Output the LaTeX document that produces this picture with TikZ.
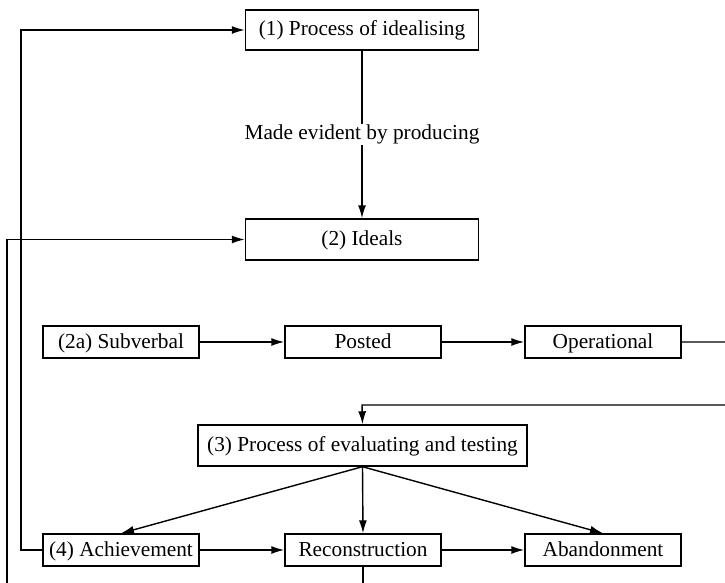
\documentclass[tikz,border=0pt]{standalone}
\usepackage{fontspec}
\setmainfont{Liberation Serif}
\usetikzlibrary{arrows.meta}

\begin{document}
\begin{tikzpicture}[x=1pt, y={(0,-1pt)}, >={Latex[length=13pt,width=8pt]},
        line width=1.4pt,
        font=\fontsize{21.3}{25}\selectfont,
        bigbox/.style={draw, inner sep=0pt, text height=15pt, text depth=3pt,
            minimum width=233pt, minimum height=40pt},
        smallbox/.style={draw, inner sep=0pt, text height=15pt, text depth=3pt,
            minimum width=156pt, minimum height=32pt}]
    \clip (0, 0) rectangle (725, 583);

    \node[bigbox] (idealising) at (362, 30) {(1) Process of idealising};
    \node[bigbox, minimum height=41pt] (ideals) at (362, 239.5) {(2) Ideals};

    \node[smallbox] (subverbal) at (121, 342) {(2a) Subverbal};
    \node[smallbox] (posted) at (363, 342) {Posted};
    \node[smallbox] (operational) at (603, 342) {Operational};

    \node[bigbox, minimum width=329pt, minimum height=41pt] (evaluating) at (362.5, 445.5) {(3) Process of evaluating and testing};

    \node[smallbox] (achievement) at (121, 550) {(4) Achievement};
    \node[smallbox] (reconstruction) at (363, 550) {Reconstruction};
    \node[smallbox] (abandonment) at (603, 550) {Abandonment};

    \draw[->] (idealising.south) -- (ideals.north)
        node[midway, fill=white, inner sep=1pt] {Made evident by producing};

    \draw[->] (subverbal) -- (posted);
    \draw[->] (posted) -- (operational);
    \draw[->] (operational.east) -- ++(60, 0) |- (362, 405) -- (evaluating.north);

    \draw[->] (evaluating.south) -- (achievement.north);
    \draw[->] (evaluating.south) -- (reconstruction.north);
    \draw[->] (evaluating.south) -- (abandonment.north);

    \draw[->] (achievement) -- (reconstruction);
    \draw[->] (reconstruction) -- (abandonment);

    % feedback loops
    \draw[->] (achievement.west) -- (21, 550) |- (idealising.west);
    \draw[->] (reconstruction.south) -- ++(0, 40) -| (7, 240) |- (ideals.west);
\end{tikzpicture}
\end{document}
